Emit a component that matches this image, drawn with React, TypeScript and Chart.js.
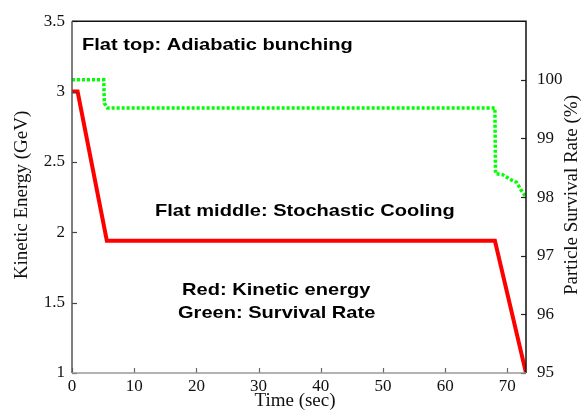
import React, { useEffect, useRef } from "react";
import { Chart, registerables } from "chart.js";

Chart.register(...registerables);

// Kinetic energy (GeV) vs time (sec)
const energyTime = [0, 0.9, 5.6, 68, 73];
const energyValues = [3.0, 3.0, 1.94, 1.94, 1.0];

// Particle survival rate (%) vs time (sec)
const survivalTime = [0, 5.1, 5.2, 5.7, 68, 68.1, 69.3, 70.5, 71.5, 72.2, 73];
const survivalValues = [100, 100, 99.6, 99.52, 99.52, 98.4, 98.38, 98.3, 98.25, 98.12, 98.0];

const xTickValues = [0, 10, 20, 30, 40, 50, 60, 70];
const leftTickValues = [1, 1.5, 2, 2.5, 3, 3.5];
const rightTickValues = [95, 96, 97, 98, 99, 100];

const annotations = [
  { text: "Flat top: Adiabatic bunching", x: 82, y: 50 },
  { text: "Flat middle: Stochastic Cooling", x: 155, y: 216 },
  { text: "Red: Kinetic energy", x: 182, y: 295 },
  { text: "Green: Survival Rate", x: 178, y: 318 },
];

const SERIF = "'Liberation Serif', 'Times New Roman', serif";
const SANS = "'Liberation Sans', Arial, sans-serif";

const framePlugin = {
  id: "frame",
  afterDraw(chart: any) {
    const { ctx, chartArea } = chart;
    const { left, right, top, bottom } = chartArea;
    ctx.save();
    // inward ticks
    const tl = 5;
    ctx.lineWidth = 1.2;
    const xs = chart.scales.x;
    ctx.strokeStyle = "#666";
    xTickValues.forEach((v) => {
      const px = Math.round(xs.getPixelForValue(v)) + 0.5;
      ctx.beginPath();
      ctx.moveTo(px, bottom);
      ctx.lineTo(px, bottom - tl);
      ctx.stroke();
    });
    const yl = chart.scales.y;
    ctx.strokeStyle = "#444";
    leftTickValues.forEach((v) => {
      const py = Math.round(yl.getPixelForValue(v)) + 0.5;
      ctx.beginPath();
      ctx.moveTo(left, py);
      ctx.lineTo(left + tl, py);
      ctx.stroke();
    });
    const yr = chart.scales.y1;
    ctx.strokeStyle = "#222";
    rightTickValues.forEach((v) => {
      const py = Math.round(yr.getPixelForValue(v)) + 0.5;
      ctx.beginPath();
      ctx.moveTo(right, py);
      ctx.lineTo(right - tl, py);
      ctx.stroke();
    });
    // frame
    ctx.lineWidth = 1.5;
    ctx.strokeStyle = "#111";
    ctx.beginPath();
    ctx.moveTo(left, top);
    ctx.lineTo(right, top);
    ctx.lineTo(right, bottom);
    ctx.stroke();
    ctx.strokeStyle = "#555";
    ctx.beginPath();
    ctx.moveTo(left, top);
    ctx.lineTo(left, bottom);
    ctx.stroke();
    ctx.strokeStyle = "#999";
    ctx.beginPath();
    ctx.moveTo(left, bottom);
    ctx.lineTo(right, bottom);
    ctx.stroke();

    // annotations (horizontally stretched like the reference)
    ctx.fillStyle = "#000";
    ctx.font = `bold 17px ${SANS}`;
    ctx.textAlign = "left";
    ctx.textBaseline = "alphabetic";
    annotations.forEach((a) => {
      ctx.save();
      ctx.translate(a.x, a.y);
      ctx.scale(1.18, 1);
      ctx.fillText(a.text, 0, 0);
      ctx.restore();
    });

    // axis titles
    ctx.font = `19px ${SERIF}`;
    ctx.fillStyle = "#111";
    ctx.textAlign = "center";
    ctx.textBaseline = "middle";
    ctx.fillText("Time (sec)", (left + right) / 2 - 4, 401);
    ctx.save();
    ctx.translate(22, 195);
    ctx.rotate(-Math.PI / 2);
    ctx.fillText("Kinetic Energy (GeV)", 0, 0);
    ctx.restore();
    ctx.save();
    ctx.translate(572, 195);
    ctx.rotate(-Math.PI / 2);
    ctx.fillText("Particle Survival Rate (%)", 0, 0);
    ctx.restore();
    ctx.restore();
  },
};

export default function App() {
  const ref = useRef<HTMLCanvasElement | null>(null);
  useEffect(() => {
    if (!ref.current) return;
    const chart = new Chart(ref.current, {
      type: "line",
      data: {
        datasets: [
          {
            label: "Survival Rate",
            data: survivalTime.map((t, i) => ({ x: t, y: survivalValues[i] })),
            yAxisID: "y1",
            borderColor: "#00ff00",
            borderWidth: 3.5,
            borderDash: [3, 2],
            pointRadius: 0,
            tension: 0,
            fill: false,
          },
          {
            label: "Kinetic energy",
            data: energyTime.map((t, i) => ({ x: t, y: energyValues[i] })),
            yAxisID: "y",
            borderColor: "#ff0000",
            borderWidth: 4,
            pointRadius: 0,
            tension: 0,
            fill: false,
          },
        ],
      },
      options: {
        responsive: false,
        animation: false,
        layout: { padding: { top: 15, left: 0, right: 0, bottom: 0 } },
        plugins: { legend: { display: false }, tooltip: { enabled: false } },
        scales: {
          x: {
            type: "linear",
            min: 0,
            max: 73,
            afterBuildTicks: (s: any) => {
              s.ticks = xTickValues.map((v) => ({ value: v }));
            },
            afterFit: (s: any) => {
              s.height = 41;
            },
            grid: { display: false, drawTicks: false },
            border: { display: false },
            ticks: {
              padding: 3,
              color: "#111",
              font: { family: SERIF, size: 17 },
              maxRotation: 0,
              autoSkip: false,
            },
          },
          y: {
            type: "linear",
            position: "left",
            min: 1,
            max: 3.5,
            afterBuildTicks: (s: any) => {
              s.ticks = leftTickValues.map((v) => ({ value: v }));
            },
            afterFit: (s: any) => {
              s.width = 72;
            },
            grid: { display: false, drawTicks: false },
            border: { display: false },
            ticks: {
              padding: 7,
              color: "#111",
              font: { family: SERIF, size: 17 },
              autoSkip: false,
              callback: (v: any) => String(v),
            },
          },
          y1: {
            type: "linear",
            position: "right",
            min: 95,
            max: 101,
            afterBuildTicks: (s: any) => {
              s.ticks = rightTickValues.map((v) => ({ value: v }));
            },
            afterFit: (s: any) => {
              s.width = 61;
            },
            grid: { display: false, drawTicks: false },
            border: { display: false },
            ticks: {
              padding: 11,
              color: "#111",
              font: { family: SERIF, size: 17 },
              autoSkip: false,
              callback: (v: any) => String(v),
            },
          },
        },
      },
      plugins: [framePlugin],
    });
    return () => chart.destroy();
  }, []);
  return (
    <div style={{ position: "fixed", left: 0, top: 0, width: 587, height: 414, background: "#fff" }}>
      <canvas ref={ref} width={587} height={414} />
    </div>
  );
}
